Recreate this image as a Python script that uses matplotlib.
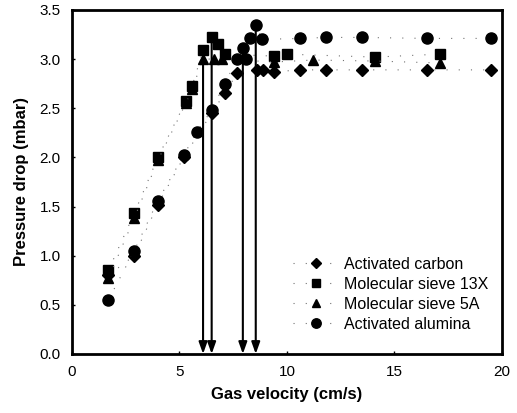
import matplotlib
matplotlib.use("Agg")
import matplotlib.pyplot as plt

plt.rcParams['font.family'] = ['Liberation Sans', 'DejaVu Sans']

# Activated carbon (diamonds)
carbon_v = [1.7, 2.9, 4.0, 5.2, 6.5, 7.1, 7.7, 8.6, 8.9, 9.4, 10.6, 11.8, 13.5, 16.5, 19.5]
carbon_dp = [0.80, 1.00, 1.52, 2.00, 2.45, 2.65, 2.86, 2.89, 2.89, 2.87, 2.89, 2.89, 2.89, 2.89, 2.89]

# Molecular sieve 13X (squares)
ms13x_v = [1.7, 2.9, 4.0, 5.3, 5.6, 6.1, 6.5, 6.8, 7.1, 9.4, 10.0, 14.1, 17.1]
ms13x_dp = [0.85, 1.43, 2.00, 2.57, 2.73, 3.09, 3.22, 3.15, 3.05, 3.03, 3.05, 3.02, 3.05]

# Molecular sieve 5A (triangles)
ms5a_v = [1.7, 2.9, 4.0, 5.3, 5.6, 6.1, 6.6, 7.0, 9.4, 11.2, 14.1, 17.1]
ms5a_dp = [0.77, 1.38, 1.97, 2.55, 2.70, 3.00, 3.00, 3.00, 2.97, 2.99, 2.98, 2.96]

# Activated alumina (circles)
alumina_v = [1.7, 2.9, 4.0, 5.2, 5.8, 6.5, 7.1, 7.7, 7.95, 8.1, 8.3, 8.55, 8.85,
             10.6, 11.8, 13.5, 16.5, 19.5]
alumina_dp = [0.55, 1.05, 1.56, 2.02, 2.26, 2.48, 2.75, 3.00, 3.11, 3.00, 3.21, 3.35, 3.20,
              3.21, 3.22, 3.22, 3.21, 3.21]

# Minimum fluidization points marked by arrows (velocity, pressure drop)
arrow_v = [6.1, 6.5, 7.95, 8.55]
arrow_dp = [3.09, 3.22, 3.11, 3.35]

series = [
    ("Activated carbon", carbon_v, carbon_dp, "D", 6.5),
    ("Molecular sieve 13X", ms13x_v, ms13x_dp, "s", 7),
    ("Molecular sieve 5A", ms5a_v, ms5a_dp, "^", 7),
    ("Activated alumina", alumina_v, alumina_dp, "o", 8),
]

fig = plt.figure(figsize=(5.17, 4.13), dpi=100)
ax = fig.add_axes([0.139, 0.143, 0.832, 0.833])

for label, v, dp, m, ms in series:
    ax.plot(v, dp, linestyle=(0, (1, 10)), color='0.45', linewidth=0.8,
            marker=m, markersize=ms, markerfacecolor='black',
            markeredgecolor='black', label=label)

for v, dp in zip(arrow_v, arrow_dp):
    ax.annotate("", xy=(v, 0.0), xytext=(v, dp),
                arrowprops=dict(arrowstyle='-|>,head_width=0.25,head_length=0.7',
                                color='black', lw=1.5, shrinkA=0, shrinkB=0))

ax.set_xlim(0, 20)
ax.set_ylim(0, 3.5)
ax.set_xticks([0, 5, 10, 15, 20])
ax.set_yticks([0.0, 0.5, 1.0, 1.5, 2.0, 2.5, 3.0, 3.5])
ax.set_yticklabels(["0.0", "0.5", "1.0", "1.5", "2.0", "2.5", "3.0", "3.5"])
ax.tick_params(direction='in', length=2, width=1, labelsize=11, pad=8)
for s in ax.spines.values():
    s.set_linewidth(2)

ax.set_xlabel("Gas velocity (cm/s)", fontsize=12, fontweight='bold', labelpad=6)
ax.set_ylabel("Pressure drop (mbar)", fontsize=12, fontweight='bold', labelpad=8)

ax.legend(loc='upper left', bbox_to_anchor=(0.514, 0.283), frameon=False,
          fontsize=11.5, handlelength=2.9, handletextpad=0.3, labelspacing=0.32,
          borderpad=0, borderaxespad=0, markerscale=0.85)

fig.savefig("out.png", dpi=100)
